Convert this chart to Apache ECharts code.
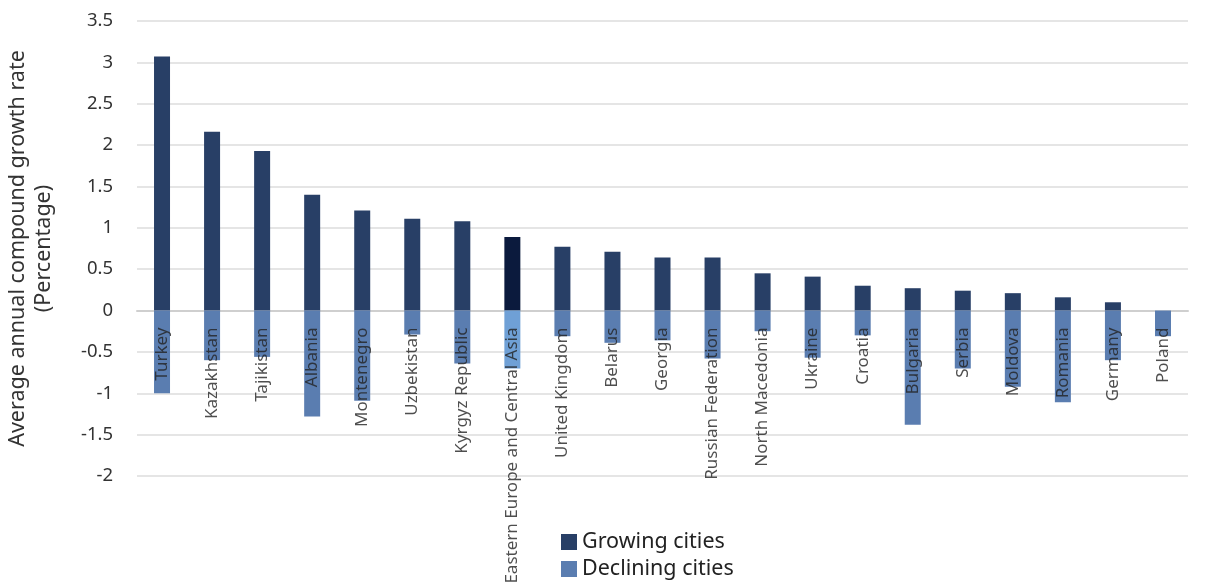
<!DOCTYPE html>
<html>
<head>
<meta charset="utf-8">
<script src="https://cdn.jsdelivr.net/npm/echarts@6/dist/echarts.min.js"></script>
<style>html,body{margin:0;padding:0;background:#fff}#c{width:1217px;height:584px}</style>
</head>
<body>
<div id="c"></div>
<script>
const categories = ["Turkey","Kazakhstan","Tajikistan","Albania","Montenegro","Uzbekistan","Kyrgyz Republic","Eastern Europe and Central Asia","United Kingdom","Belarus","Georgia","Russian Federation","North Macedonia","Ukraine","Croatia","Bulgaria","Serbia","Moldova","Romania","Germany","Poland"];
const growing = [3.07,2.16,1.93,1.40,1.21,1.11,1.08,0.89,0.77,0.71,0.64,0.64,0.45,0.41,0.30,0.27,0.24,0.21,0.16,0.10,0];
const declining = [-1.00,-0.60,-0.56,-1.28,-1.09,-0.29,-0.64,-0.70,-0.31,-0.39,-0.36,-0.58,-0.25,-0.57,-0.30,-1.38,-0.70,-0.92,-1.11,-0.60,-0.31];
const highlightCategory = "Eastern Europe and Central Asia";
const seriesNames = ["Growing cities","Declining cities"];

const FONT = "Noto Sans";
const cGrow = "#283F66", cDecl = "#5A7DB0", cGrowHi = "#0B1A3D", cDeclHi = "#6FA0D6";

function mk(vals, hi) {
  return vals.map((v, i) => categories[i] === highlightCategory ? {value: v, itemStyle: {color: hi}} : v);
}

const chart = echarts.init(document.getElementById('c'), null, {renderer: 'canvas'});
chart.setOption({
  animation: false,
  textStyle: {fontFamily: FONT},
  grid: {left: 137, right: 29, top: 21, bottom: 108, containLabel: false, outerBoundsMode: 'none'},
  legend: {
    orient: 'vertical', left: 556, top: 525, itemGap: 3, height: 60,
    itemWidth: 16, itemHeight: 16, icon: 'rect',
    textStyle: {fontSize: 21.5, lineHeight: 24, color: '#222', fontFamily: FONT},
    data: seriesNames
  },
  xAxis: {
    type: 'category', data: categories,
    axisTick: {show: false},
    axisLine: {show: true, onZero: true, lineStyle: {color: '#cfcfcf', width: 2}},
    axisLabel: {show: false}
  },
  yAxis: {
    type: 'value', min: -2, max: 3.5, interval: 0.5,
    name: 'Average annual compound growth rate\n(Percentage)',
    nameLocation: 'middle', nameGap: 80,
    nameTextStyle: {fontSize: 21.5, color: '#333', lineHeight: 26, fontFamily: FONT},
    axisLabel: {fontSize: 18.5, color: '#333', margin: 24, fontFamily: FONT},
    axisLine: {show: false}, axisTick: {show: false},
    splitLine: {lineStyle: {color: '#dcdcdc', width: 1.5}}
  },
  series: [
    {name: seriesNames[0], type: 'bar', stack: 'a', barWidth: 16, data: mk(growing, cGrowHi), itemStyle: {color: cGrow}},
    {name: seriesNames[1], type: 'bar', stack: 'a', barWidth: 16, data: mk(declining, cDeclHi), itemStyle: {color: cDecl}},
    {name: 'labels', type: 'scatter', symbolSize: 0, silent: true, z: 10,
     data: categories.map(c => [c, 0]),
     label: {show: true, formatter: p => p.name || p.value[0], position: 'bottom', distance: 17,
             rotate: 90, align: 'right', verticalAlign: 'middle',
             fontSize: 17, color: '#222', fontFamily: FONT}}
  ]
});
</script>
</body>
</html>
